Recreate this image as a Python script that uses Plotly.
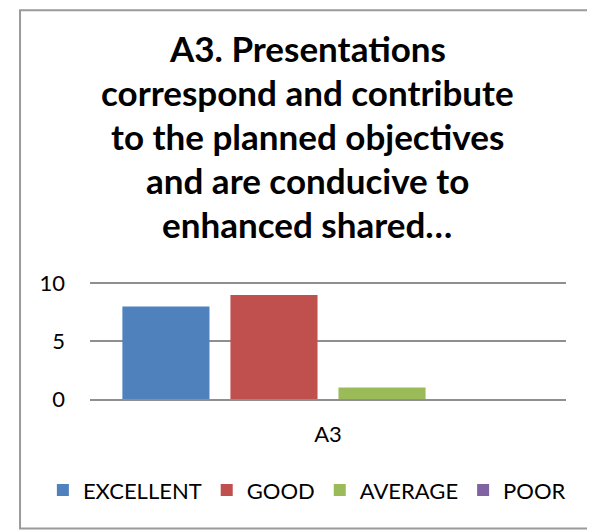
import plotly.graph_objects as go

categories = ["A3"]
series_names = ["EXCELLENT", "GOOD", "AVERAGE", "POOR"]
series_values = [[8], [9], [1], [0]]
series_colors = ["#4F81BD", "#C0504D", "#9BBB59", "#8064A2"]

title_lines = ["A3. Presentations", "correspond and contribute", "to the planned objectives",
               "and are conducive to", "enhanced shared…"]

PLOT_H = 117.4  # plot area height in px, used to place paper-coord items

fig = go.Figure()
for name, vals, col in zip(series_names, series_values, series_colors):
    fig.add_trace(go.Bar(x=categories, y=vals, name=name, marker_color=col,
                         marker_line_width=0))

# the page body adds an 8px offset, so the figure is 8px smaller than the window
fig.update_layout(
    width=587, height=524,
    margin=dict(l=82, r=29, t=273.6, b=133, autoexpand=False),
    paper_bgcolor="white", plot_bgcolor="white",
    font=dict(family="Lato, Carlito, sans-serif", color="black", size=22),
    barmode="group", bargap=0.092, bargroupgap=0.194,
    showlegend=True,
    legend=dict(orientation="h", x=-0.099, xanchor="left", y=(399 - 490.5) / PLOT_H,
                yanchor="middle", font=dict(size=22), itemwidth=30, traceorder="normal"),
)

# title, one annotation per line so the line spacing matches
for i, line in enumerate(title_lines):
    fig.add_annotation(text=line, xref="paper", yref="paper",
                       x=0.456, y=(399 - 47 - 44 * i) / PLOT_H,
                       xanchor="center", yanchor="middle", showarrow=False,
                       font=dict(size=35, family="Lato, sans-serif", weight="bold"))

fig.update_yaxes(range=[0, 10.12], tickvals=[0, 5, 10], showgrid=True,
                 gridcolor="#8F8F8F", gridwidth=2, zeroline=False,
                 showline=False, ticks="", ticklabelstandoff=24)
fig.update_xaxes(showline=True, linecolor="#8F8F8F", linewidth=2, ticks="",
                 ticklabelstandoff=15)
fig.add_shape(type="rect", xref="paper", yref="paper",
              x0=-0.147, x1=1.059, y0=(399 - 529) / PLOT_H, y1=(399 - 9) / PLOT_H,
              line=dict(color="#9A9A9A", width=2))
fig.write_html("out.html")
